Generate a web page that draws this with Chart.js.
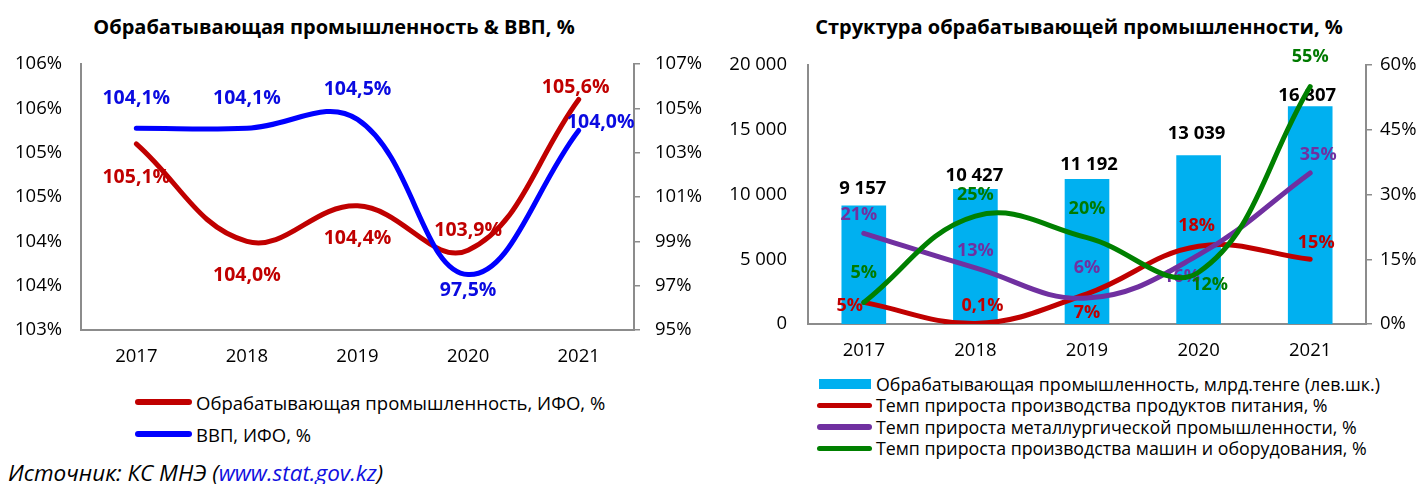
<!DOCTYPE html>
<html>
<head>
<meta charset="utf-8">
<script src="https://cdn.jsdelivr.net/npm/chart.js@4.4.0/dist/chart.umd.min.js"></script>
<style>
    body { margin: 0; width: 1421px; height: 484px; background: #fff; position: relative; overflow: hidden;
           font-family: "Open Sans", sans-serif; color: #000; }
    canvas { position: absolute; top: 0; }
    .title { position: absolute; top: 15px; font-weight: bold; font-size: 20px; line-height: 24px;
             white-space: nowrap; transform: translateX(-50%); }
    .legend { position: absolute; white-space: nowrap; }
    .legend .row { display: flex; align-items: center; }
    .legend .mark { display: inline-block; flex: none; }
    .legend .mark.line { border-radius: 3px; }
    #leftLegend { left: 135px; top: 386px; font-size: 18.5px; }
    #leftLegend .row { height: 32px; }
    #leftLegend .mark { width: 57px; height: 5.5px; margin-right: 4px; }
    #rightLegend { left: 817px; top: 373px; font-size: 17.8px; }
    #rightLegend .row { height: 21.5px; }
    #rightLegend .mark.line { width: 55px; height: 5.5px; margin-right: 4px; }
    #rightLegend .mark.box { width: 52px; height: 10px; margin-left: 2px; margin-right: 5px; }
    .source { position: absolute; left: 8px; top: 459px; font-style: italic; font-size: 22.5px; line-height: 28px; }
    .source span { color: #1010e0; }
</style>
</head>
<body>
<div class="title" style="left:334px">Обрабатывающая промышленность &amp; ВВП, %</div>
<div class="title" style="left:1079px">Структура обрабатывающей промышленности, %</div>
<canvas id="leftChart" width="710" height="370" style="left:0"></canvas>
<canvas id="rightChart" width="711" height="360" style="left:710px"></canvas>
<div class="legend" id="leftLegend"></div>
<div class="legend" id="rightLegend"></div>
<div class="source">Источник: КС МНЭ (<span>www.stat.gov.kz</span>)</div>

<script>
// ---- данные ----
const years = ['2017', '2018', '2019', '2020', '2021'];

// левый график: ИФО, %
const manufIfo = [105.1, 104.0, 104.4, 103.9, 105.6];
const gdpIfo = [104.1, 104.1, 104.5, 97.5, 104.0];
const leftAxisTicks = [103, 103.5, 104, 104.5, 105, 105.5, 106];
const rightAxisTicks = [95, 97, 99, 101, 103, 105, 107];

// правый график: структура
const manufOutput = [9157, 10427, 11192, 13039, 16807];   // млрд тенге
const foodGrowth = [5, 0.1, 7, 18, 15];
const metalGrowth = [21, 13, 6, 16, 35];
const machineGrowth = [5, 25, 20, 12, 55];
const volumeTicks = [0, 5000, 10000, 15000, 20000];
const growthTicks = [0, 15, 30, 45, 60];

Chart.defaults.font.family = '"Open Sans", sans-serif';
Chart.defaults.font.size = 18.5;
Chart.defaults.color = '#000';

const AXIS_GREY = '#8c8c8c';

const pct1 = v => v.toFixed(1).replace('.', ',') + '%';
const pctShort = v => (v < 1 ? v.toFixed(1) : v.toFixed(0)).replace('.', ',') + '%';
const thousands = v => String(v).replace(/\B(?=(\d{3})+(?!\d))/g, ' ');

// подписи значений рядом с точками (смещения относительно точки)
const pointLabels = {
    id: 'pointLabels',
    afterDatasetDraw(chart, args) {
        const ds = chart.data.datasets[args.index];
        if (!ds.labelShift) return;
        const ctx = chart.ctx;
        ctx.save();
        ctx.font = 'bold ' + (ds.labelSize || 18) + 'px "Open Sans", sans-serif';
        ctx.fillStyle = ds.labelColor || ds.borderColor;
        ctx.textAlign = 'center';
        ctx.textBaseline = 'middle';
        args.meta.data.forEach((el, i) => {
            const s = ds.labelShift[i];
            ctx.fillText(ds.labelText(ds.data[i]), el.x + s[0], el.y + s[1]);
        });
        ctx.restore();
    }
};

function axisRange(ticks) {
    return { min: ticks[0], max: ticks[ticks.length - 1], step: ticks[1] - ticks[0] };
}

function buildLegend(chart, el) {
    chart.data.datasets.forEach(ds => {
        const row = document.createElement('div');
        row.className = 'row';
        const mark = document.createElement('span');
        const isBar = ds.type === 'bar';
        mark.className = 'mark ' + (isBar ? 'box' : 'line');
        mark.style.background = isBar ? ds.backgroundColor : ds.borderColor;
        const txt = document.createElement('span');
        txt.textContent = ds.label;
        row.append(mark, txt);
        el.appendChild(row);
    });
}

const lineElements = {
    line: { borderWidth: 5, tension: 0.4, borderCapStyle: 'round', fill: false },
    point: { radius: 0, hoverRadius: 0 }
};

// ---- левый график ----
const lRange = axisRange(leftAxisTicks);
const rRange = axisRange(rightAxisTicks);

const leftChart = new Chart(document.getElementById('leftChart'), {
    type: 'line',
    data: {
        labels: years,
        datasets: [
            {
                type: 'line',
                label: 'Обрабатывающая промышленность, ИФО, %',
                data: manufIfo,
                yAxisID: 'y',
                borderColor: '#C00000',
                order: 2,
                labelSize: 19.5,
                labelText: pct1,
                labelShift: [[0, 34], [0, 34], [0, 33], [0, -20], [-3, -12]]
            },
            {
                type: 'line',
                label: 'ВВП, ИФО, %',
                data: gdpIfo,
                yAxisID: 'y1',
                borderColor: '#0000FF',
                labelColor: '#0a0ae0',
                order: 1,
                labelSize: 19.5,
                labelText: pct1,
                labelShift: [[0, -30], [0, -30], [0, -30], [0, 16], [22, -8]]
            }
        ]
    },
    options: {
        responsive: false,
        animation: false,
        layout: { padding: { top: 64 } },
        elements: lineElements,
        plugins: { legend: { display: false }, tooltip: { enabled: false } },
        scales: {
            x: {
                offset: true,
                grid: { display: false, drawTicks: false },
                border: { color: AXIS_GREY, width: 2 },
                ticks: { padding: 16 },
                afterFit: s => { s.height = 40; }
            },
            y: {
                position: 'left',
                min: lRange.min, max: lRange.max,
                grid: { display: false, drawTicks: false },
                border: { color: AXIS_GREY, width: 2 },
                ticks: { stepSize: lRange.step, padding: 19, callback: v => Math.round(v) + '%' },
                afterFit: s => { s.width = 81; }
            },
            y1: {
                position: 'right',
                min: rRange.min, max: rRange.max,
                grid: { drawOnChartArea: false, color: AXIS_GREY, lineWidth: 1.5, tickLength: 6 },
                border: { color: AXIS_GREY, width: 2 },
                ticks: { stepSize: rRange.step, padding: 15, callback: v => v + '%' },
                afterFit: s => { s.width = 76; }
            }
        }
    },
    plugins: [pointLabels]
});

// ---- правый график ----
const vRange = axisRange(volumeTicks);
const gRange = axisRange(growthTicks);

const rightChart = new Chart(document.getElementById('rightChart'), {
    data: {
        labels: years,
        datasets: [
            {
                type: 'bar',
                label: 'Обрабатывающая промышленность, млрд.тенге (лев.шк.)',
                data: manufOutput,
                yAxisID: 'y',
                backgroundColor: '#00B0F0',
                categoryPercentage: 0.4,
                barPercentage: 1,
                order: 4,
                labelColor: '#000',
                labelSize: 18.5,
                labelText: thousands,
                labelShift: [[-1, -17], [-1, -13], [2, -14], [-2, -21], [-3, -11]]
            },
            {
                type: 'line',
                label: 'Темп прироста производства продуктов питания, %',
                data: foodGrowth,
                yAxisID: 'y1',
                borderColor: '#C00000',
                order: 3,
                labelText: pctShort,
                labelShift: [[-14, 3], [7, -18], [0, 19], [-2, -20], [6, -16]]
            },
            {
                type: 'line',
                label: 'Темп прироста металлургической промышленности, %',
                data: metalGrowth,
                yAxisID: 'y1',
                borderColor: '#7030A0',
                order: 2,
                labelText: pctShort,
                labelShift: [[-5, -18], [0, -17], [0, -30], [-17, 22], [8, -18]]
            },
            {
                type: 'line',
                label: 'Темп прироста производства машин и оборудования, %',
                data: machineGrowth,
                yAxisID: 'y1',
                borderColor: '#008000',
                labelColor: '#007A00',
                order: 1,
                labelText: pctShort,
                labelShift: [[0, -30], [0, -21], [0, -29], [11, 13], [0, -30]]
            }
        ]
    },
    options: {
        responsive: false,
        animation: false,
        layout: { padding: { top: 65 } },
        elements: lineElements,
        plugins: { legend: { display: false }, tooltip: { enabled: false } },
        scales: {
            x: {
                grid: { display: false, drawTicks: false },
                border: { color: AXIS_GREY, width: 2 },
                ticks: { padding: 16 },
                afterFit: s => { s.height = 36; }
            },
            y: {
                position: 'left',
                min: vRange.min, max: vRange.max,
                grid: { display: false, drawTicks: false },
                border: { color: AXIS_GREY, width: 2 },
                ticks: { stepSize: vRange.step, padding: 21, callback: v => thousands(v) },
                afterFit: s => { s.width = 98; }
            },
            y1: {
                position: 'right',
                min: gRange.min, max: gRange.max,
                grid: { drawOnChartArea: false, color: AXIS_GREY, lineWidth: 1.5, tickLength: 6 },
                border: { color: AXIS_GREY, width: 2 },
                ticks: { stepSize: gRange.step, padding: 8, callback: v => v + '%' },
                afterFit: s => { s.width = 55; }
            }
        }
    },
    plugins: [pointLabels]
});

buildLegend(leftChart, document.getElementById('leftLegend'));
buildLegend(rightChart, document.getElementById('rightLegend'));
</script>
</body>
</html>
